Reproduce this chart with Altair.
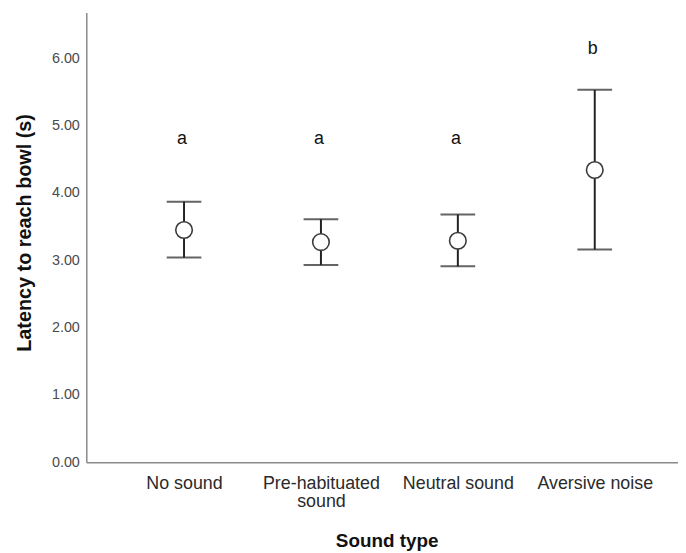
import altair as alt
import pandas as pd

categories = ["No sound", "Pre-habituated sound", "Neutral sound", "Aversive noise"]
means = [3.45, 3.27, 3.29, 4.34]
lower = [3.04, 2.93, 2.91, 3.16]
upper = [3.87, 3.61, 3.68, 5.53]
letters = ["a", "a", "a", "b"]
letter_y = [4.80, 4.80, 4.80, 6.14]

df = pd.DataFrame({
    "cat": categories, "mean": means, "lo": lower, "hi": upper,
    "letter": letters, "ly": letter_y,
})

FONT = "Liberation Sans"

xenc = alt.X(
    "cat:N", sort=categories, title="Sound type",
    scale=alt.Scale(type="point", padding=0.661, align=0.54),
    axis=alt.Axis(
        labelAngle=0, labelFontSize=18, labelColor="#2a2a2a", labelFont=FONT,
        labelPadding=12, ticks=False, grid=False, domainColor="#8a8a8a", domainWidth=1.5,
        labelLineHeight=19,
        labelExpr="datum.label == 'Pre-habituated sound' ? ['Pre-habituated', 'sound'] : datum.label",
        titleFont=FONT, titleFontSize=19, titleFontWeight="bold", titleColor="#111111",
        titleX=303, titleY=85, titleBaseline="alphabetic",
    ),
)
yscale = alt.Scale(domain=[0, 6.68], nice=False, zero=True)
yaxis = alt.Axis(
    values=[0, 1, 2, 3, 4, 5, 6], format=".2f", ticks=False, grid=False,
    labelFontSize=14.5, labelColor="#4a4a4a", labelFont=FONT, labelPadding=7,
    domainColor="#8a8a8a", domainWidth=1.5,
    title="Latency to reach bowl (s)", titleFont=FONT, titleFontSize=20,
    titleFontWeight="bold", titleColor="#111111", titleX=-62, titleY=222,
    titleAngle=-90, titleBaseline="middle",
)

base = alt.Chart(df)

rules = base.mark_rule(color="#222222", strokeWidth=2).encode(
    x=xenc, y=alt.Y("lo:Q", scale=yscale, axis=yaxis), y2="hi:Q"
)
caps_hi = base.mark_tick(color="#222222", thickness=2, size=35).encode(
    x=alt.X("cat:N", sort=categories), y=alt.Y("hi:Q")
)
caps_lo = base.mark_tick(color="#222222", thickness=2, size=35).encode(
    x=alt.X("cat:N", sort=categories), y=alt.Y("lo:Q")
)
points = base.mark_point(
    shape="circle", size=280, filled=False, fill="white", fillOpacity=1,
    stroke="#3a3a3a", strokeWidth=1.6, opacity=1,
).encode(x=alt.X("cat:N", sort=categories), y=alt.Y("mean:Q"))
texts = base.mark_text(
    font=FONT, fontSize=18, color="#111111", baseline="middle", align="center", dx=-2
).encode(x=alt.X("cat:N", sort=categories), y=alt.Y("ly:Q"), text="letter:N")

chart = alt.layer(rules, caps_hi, caps_lo, points, texts).properties(
    width=597, height=454,
    autosize=alt.AutoSizeParams(type="none"),
    padding={"left": 79, "top": 2, "right": 0, "bottom": 89},
    background="white",
).configure_view(stroke=None)

chart.save("out.html", embed_options={"renderer": "svg", "actions": False})
